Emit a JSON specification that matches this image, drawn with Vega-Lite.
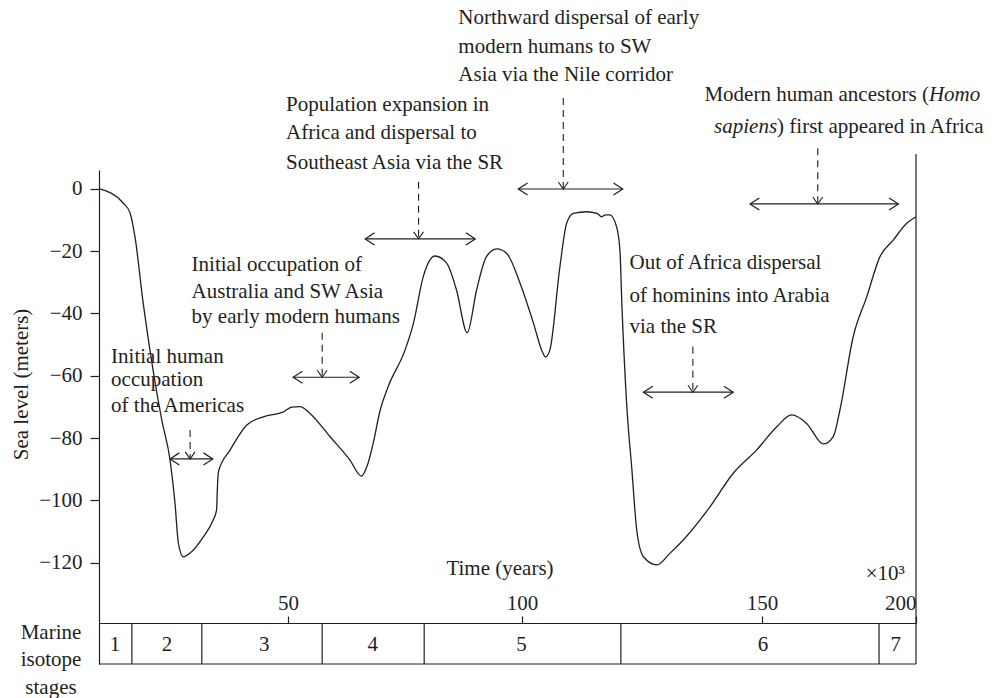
{
  "$schema": "https://vega.github.io/schema/vega-lite/v6.json",
  "width": 817,
  "height": 494,
  "autosize": {"type": "none"},
  "padding": {"left": 99, "top": 170, "right": 77, "bottom": 34},
  "background": "white",
  "config": {
    "view": {"stroke": null},
    "font": "Liberation Serif",
    "axis": {
      "labelFont": "Liberation Serif",
      "labelFontSize": 21,
      "labelColor": "#231f20",
      "domainColor": "#231f20",
      "tickColor": "#231f20",
      "domainWidth": 1.2,
      "tickWidth": 1.2,
      "grid": false
    }
  },
  "datasets": {
    "curve": [
      {"i": 0, "t": 0, "s": 0},
      {"i": 1, "t": 6.4, "s": -4.6},
      {"i": 2, "t": 8.2, "s": -7.7},
      {"i": 3, "t": 9.5, "s": -15.3},
      {"i": 4, "t": 11.7, "s": -36.8},
      {"i": 5, "t": 14.3, "s": -58.2},
      {"i": 6, "t": 16.6, "s": -74.2},
      {"i": 7, "t": 18.8, "s": -87.1},
      {"i": 8, "t": 20.1, "s": -100.8},
      {"i": 9, "t": 21.0, "s": -113.7},
      {"i": 10, "t": 22.3, "s": -118.1},
      {"i": 11, "t": 24.1, "s": -116.9},
      {"i": 12, "t": 27.6, "s": -111.7},
      {"i": 13, "t": 30.2, "s": -106.3},
      {"i": 14, "t": 31.1, "s": -103.1},
      {"i": 15, "t": 31.3, "s": -96.7},
      {"i": 16, "t": 31.6, "s": -90.8},
      {"i": 17, "t": 34.7, "s": -83.8},
      {"i": 18, "t": 39.1, "s": -75.8},
      {"i": 19, "t": 43.5, "s": -73.2},
      {"i": 20, "t": 48.8, "s": -71.6},
      {"i": 21, "t": 50.8, "s": -70.1},
      {"i": 22, "t": 52.6, "s": -69.9},
      {"i": 23, "t": 54.7, "s": -72.1},
      {"i": 24, "t": 59.0, "s": -79.6},
      {"i": 25, "t": 63.2, "s": -87.0},
      {"i": 26, "t": 65.7, "s": -92.2},
      {"i": 27, "t": 67.1, "s": -88.1},
      {"i": 28, "t": 68.2, "s": -81.7},
      {"i": 29, "t": 69.7, "s": -71.0},
      {"i": 30, "t": 71.4, "s": -63.5},
      {"i": 31, "t": 75.0, "s": -51.8},
      {"i": 32, "t": 76.8, "s": -43.2},
      {"i": 33, "t": 78.9, "s": -28.2},
      {"i": 34, "t": 81.4, "s": -21.6},
      {"i": 35, "t": 83.9, "s": -23.9},
      {"i": 36, "t": 86.0, "s": -32.5},
      {"i": 37, "t": 88.3, "s": -46.2},
      {"i": 38, "t": 90.3, "s": -32.5},
      {"i": 39, "t": 92.4, "s": -21.8},
      {"i": 40, "t": 94.6, "s": -19.3},
      {"i": 41, "t": 96.7, "s": -20.7},
      {"i": 42, "t": 99.6, "s": -30.4},
      {"i": 43, "t": 102.4, "s": -43.2},
      {"i": 44, "t": 104.1, "s": -51.8},
      {"i": 45, "t": 104.9, "s": -54.0},
      {"i": 46, "t": 105.8, "s": -51.8},
      {"i": 47, "t": 107.9, "s": -25.0},
      {"i": 48, "t": 109.3, "s": -11.1},
      {"i": 49, "t": 110.7, "s": -7.9},
      {"i": 50, "t": 113.5, "s": -7.4},
      {"i": 51, "t": 115.6, "s": -7.9},
      {"i": 52, "t": 116.6, "s": -9.0},
      {"i": 53, "t": 117.4, "s": -8.4},
      {"i": 54, "t": 118.3, "s": -8.4},
      {"i": 55, "t": 119.7, "s": -12.2},
      {"i": 56, "t": 120.4, "s": -19.7},
      {"i": 57, "t": 120.8, "s": -36.8},
      {"i": 58, "t": 121.8, "s": -68.9},
      {"i": 59, "t": 122.9, "s": -90.3},
      {"i": 60, "t": 123.9, "s": -109.5},
      {"i": 61, "t": 125.3, "s": -118.1},
      {"i": 62, "t": 128.1, "s": -120.7},
      {"i": 63, "t": 130.8, "s": -117.0},
      {"i": 64, "t": 133.6, "s": -112.7},
      {"i": 65, "t": 139.2, "s": -102.0},
      {"i": 66, "t": 144.0, "s": -91.3},
      {"i": 67, "t": 148.9, "s": -83.8},
      {"i": 68, "t": 154.8, "s": -76.4},
      {"i": 69, "t": 159.6, "s": -72.6},
      {"i": 70, "t": 164.5, "s": -75.3},
      {"i": 71, "t": 169.9, "s": -81.9},
      {"i": 72, "t": 173.1, "s": -79.6},
      {"i": 73, "t": 175.3, "s": -71.0},
      {"i": 74, "t": 179.6, "s": -47.5},
      {"i": 75, "t": 184.0, "s": -34.7},
      {"i": 76, "t": 188.3, "s": -21.8},
      {"i": 77, "t": 192.6, "s": -16.5},
      {"i": 78, "t": 197.0, "s": -11.1},
      {"i": 79, "t": 200, "s": -9.0}
    ],
    "frame": [
      {"t": 8.7, "t2": 8.7, "s": -139.35, "s2": -152.5},
      {"t": 27.2, "t2": 27.2, "s": -139.35, "s2": -152.5},
      {"t": 57.3, "t2": 57.3, "s": -139.35, "s2": -152.5},
      {"t": 79.1, "t2": 79.1, "s": -139.35, "s2": -152.5},
      {"t": 120.6, "t2": 120.6, "s": -139.35, "s2": -152.5},
      {"t": 188.0, "t2": 188.0, "s": -139.35, "s2": -152.5},
      {"t": 200, "t2": 200, "s": 11.1, "s2": -152.5},
      {"t": 0, "t2": 200, "s": -152.5, "s2": -152.5}
    ],
    "arrows": [
      {"x1": 18.8, "x2": 30.1, "y": -86.7, "xd": 24.1, "ytop": -77.4},
      {"x1": 51.1, "x2": 65.2, "y": -60.5, "xd": 57.3, "ytop": -46.2},
      {"x1": 66.5, "x2": 90.0, "y": -16.1, "xd": 77.9, "ytop": 2.2},
      {"x1": 99.2, "x2": 121.0, "y": -0.1, "xd": 108.6, "ytop": 29.1},
      {"x1": 125.3, "x2": 144.0, "y": -65.3, "xd": 135.6, "ytop": -50.7},
      {"x1": 147.5, "x2": 194.3, "y": -4.9, "xd": 168.1, "ytop": 13.0}
    ],
    "notes": [
      {"t": 3.2, "s": -53.9, "text": "Initial human"},
      {"t": 3.2, "s": -61.4, "text": "occupation"},
      {"t": 3.2, "s": -69.6, "text": "of the Americas"},
      {"t": 24.5, "s": -24.5, "text": "Initial occupation of"},
      {"t": 24.5, "s": -33.0, "text": "Australia and SW Asia"},
      {"t": 24.5, "s": -41.1, "text": "by early modern humans"},
      {"t": 49.5, "s": 26.9, "text": "Population expansion in"},
      {"t": 49.5, "s": 17.9, "text": "Africa and dispersal to"},
      {"t": 49.5, "s": 8.2, "text": "Southeast Asia via the SR"},
      {"t": 86.4, "s": 54.8, "text": "Northward dispersal of early"},
      {"t": 86.4, "s": 45.5, "text": "modern humans to SW"},
      {"t": 86.4, "s": 36.5, "text": "Asia via the Nile corridor"},
      {"t": 122.4, "s": -23.7, "text": "Out of Africa dispersal"},
      {"t": 122.4, "s": -34.4, "text": "of hominins into Arabia"},
      {"t": 122.4, "s": -44.3, "text": "via the SR"},
      {"t": 154.9, "s": 19.9, "text": ") first appeared in Africa"}
    ],
    "notesRight": [
      {"t": 204.2, "s": 30.1, "text": "Modern human ancestors ("},
      {"t": 196.4, "s": -123.6, "text": "×10³"}
    ],
    "italicLeft": [
      {"t": 204.2, "s": 30.1, "text": "Homo"}
    ],
    "italicRight": [
      {"t": 154.9, "s": 19.9, "text": "sapiens"}
    ],
    "centered": [
      {"t": 95.3, "s": -122.0, "text": "Time (years)"},
      {"t": 4.2, "s": -146.4, "text": "1"},
      {"t": 18.0, "s": -146.4, "text": "2"},
      {"t": 43.7, "s": -146.4, "text": "3"},
      {"t": 68.1, "s": -146.4, "text": "4"},
      {"t": 99.9, "s": -146.4, "text": "5"},
      {"t": 150.3, "s": -146.4, "text": "6"},
      {"t": 193.4, "s": -146.4, "text": "7"},
      {"t": -12.7, "s": -142.4, "text": "Marine"},
      {"t": -12.7, "s": -151.1, "text": "isotope"},
      {"t": -12.7, "s": -160.1, "text": "stages"}
    ],
    "ytitle": [
      {"t": -20.4, "s": -62.8, "text": "Sea level (meters)"}
    ]
  },
  "layer": [
    {
      "data": {"name": "curve"},
      "mark": {"type": "line", "interpolate": "monotone", "stroke": "#231f20", "strokeWidth": 1.3},
      "encoding": {
        "x": {
          "field": "t", "type": "quantitative", "title": null,
          "scale": {"domain": [0, 50, 100, 150, 200], "range": [0, 189, 423, 663, 817], "nice": false, "zero": false},
          "axis": {"orient": "top", "offset": -453, "values": [50, 100, 150, 200], "tickSize": 7, "labelPadding": 3, "title": null}
        },
        "y": {
          "field": "s", "type": "quantitative", "title": null,
          "scale": {"domain": [-152.5, 6], "nice": false, "zero": false},
          "axis": {
            "values": [0, -20, -40, -60, -80, -100, -120],
            "tickSize": 9, "labelPadding": 8, "title": null,
            "labelExpr": "datum.value < 0 ? '\u2212' + abs(datum.value) : datum.label"
          }
        },
        "order": {"field": "i", "type": "quantitative"}
      }
    },
    {
      "data": {"name": "frame"},
      "mark": {"type": "rule", "stroke": "#231f20", "strokeWidth": 1.2},
      "encoding": {
        "x": {"field": "t", "type": "quantitative", "title": null},
        "x2": {"field": "t2"},
        "y": {"field": "s", "type": "quantitative", "title": null},
        "y2": {"field": "s2"}
      }
    },
    {
      "data": {"name": "arrows"},
      "mark": {"type": "rule", "stroke": "#231f20", "strokeWidth": 1.2},
      "encoding": {
        "x": {"field": "x1", "type": "quantitative", "title": null},
        "x2": {"field": "x2"},
        "y": {"field": "y", "type": "quantitative", "title": null}
      }
    },
    {
      "data": {"name": "arrows"},
      "mark": {"type": "rule", "stroke": "#231f20", "strokeWidth": 1.1, "strokeDash": [7, 5]},
      "encoding": {
        "x": {"field": "xd", "type": "quantitative", "title": null},
        "y": {"field": "ytop", "type": "quantitative", "title": null},
        "y2": {"field": "y"}
      }
    },
    {
      "data": {"name": "arrows"},
      "mark": {"type": "point", "shape": "M1,-0.65L0,0L1,0.65", "filled": false, "size": 346, "stroke": "#231f20", "strokeWidth": 1.2, "opacity": 1},
      "encoding": {
        "x": {"field": "x1", "type": "quantitative", "title": null},
        "y": {"field": "y", "type": "quantitative", "title": null}
      }
    },
    {
      "data": {"name": "arrows"},
      "mark": {"type": "point", "shape": "M-1,-0.65L0,0L-1,0.65", "filled": false, "size": 346, "stroke": "#231f20", "strokeWidth": 1.2, "opacity": 1},
      "encoding": {
        "x": {"field": "x2", "type": "quantitative", "title": null},
        "y": {"field": "y", "type": "quantitative", "title": null}
      }
    },
    {
      "data": {"name": "arrows"},
      "mark": {"type": "point", "shape": "M-0.7,-1L0,0L0.7,-1", "filled": false, "size": 196, "stroke": "#231f20", "strokeWidth": 1.1, "opacity": 1},
      "encoding": {
        "x": {"field": "xd", "type": "quantitative", "title": null},
        "y": {"field": "y", "type": "quantitative", "title": null}
      }
    },
    {
      "data": {"name": "notes"},
      "mark": {"type": "text", "align": "left", "baseline": "middle", "font": "Liberation Serif", "fontSize": 21, "fill": "#231f20"},
      "encoding": {
        "x": {"field": "t", "type": "quantitative", "title": null},
        "y": {"field": "s", "type": "quantitative", "title": null},
        "text": {"field": "text"}
      }
    },
    {
      "data": {"name": "notesRight"},
      "mark": {"type": "text", "align": "right", "baseline": "middle", "font": "Liberation Serif", "fontSize": 21, "fill": "#231f20"},
      "encoding": {
        "x": {"field": "t", "type": "quantitative", "title": null},
        "y": {"field": "s", "type": "quantitative", "title": null},
        "text": {"field": "text"}
      }
    },
    {
      "data": {"name": "italicLeft"},
      "mark": {"type": "text", "align": "left", "baseline": "middle", "font": "Liberation Serif", "fontStyle": "italic", "fontSize": 21, "fill": "#231f20"},
      "encoding": {
        "x": {"field": "t", "type": "quantitative", "title": null},
        "y": {"field": "s", "type": "quantitative", "title": null},
        "text": {"field": "text"}
      }
    },
    {
      "data": {"name": "italicRight"},
      "mark": {"type": "text", "align": "right", "baseline": "middle", "font": "Liberation Serif", "fontStyle": "italic", "fontSize": 21, "fill": "#231f20"},
      "encoding": {
        "x": {"field": "t", "type": "quantitative", "title": null},
        "y": {"field": "s", "type": "quantitative", "title": null},
        "text": {"field": "text"}
      }
    },
    {
      "data": {"name": "centered"},
      "mark": {"type": "text", "align": "center", "baseline": "middle", "font": "Liberation Serif", "fontSize": 21, "fill": "#231f20"},
      "encoding": {
        "x": {"field": "t", "type": "quantitative", "title": null},
        "y": {"field": "s", "type": "quantitative", "title": null},
        "text": {"field": "text"}
      }
    },
    {
      "data": {"name": "ytitle"},
      "mark": {"type": "text", "align": "center", "baseline": "middle", "angle": 270, "font": "Liberation Serif", "fontSize": 21, "fill": "#231f20"},
      "encoding": {
        "x": {"field": "t", "type": "quantitative", "title": null},
        "y": {"field": "s", "type": "quantitative", "title": null},
        "text": {"field": "text"}
      }
    }
  ]
}
